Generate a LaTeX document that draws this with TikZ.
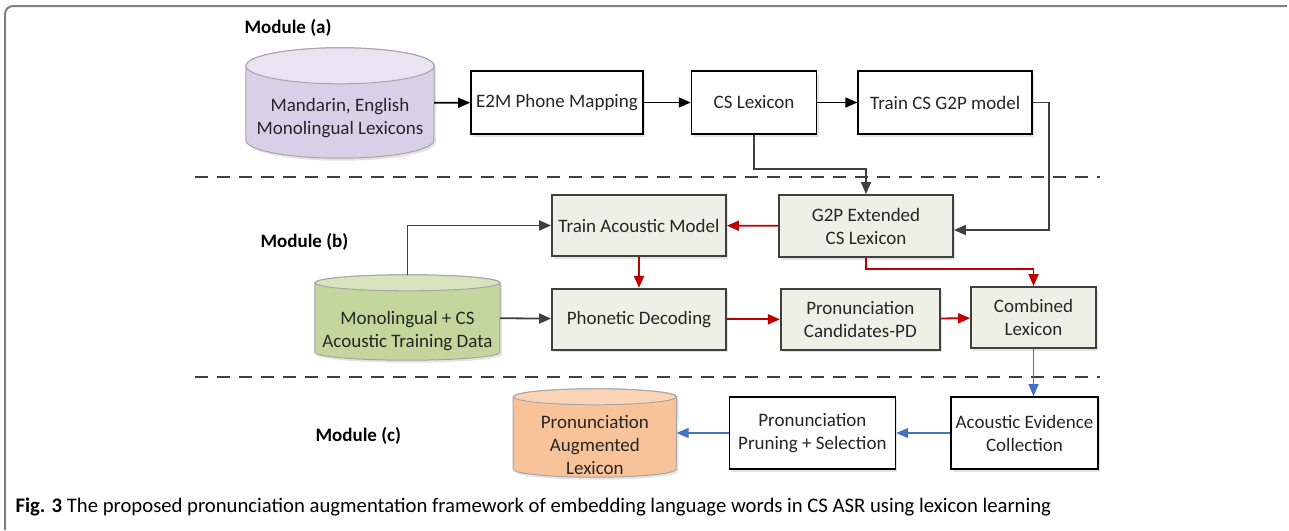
\documentclass[tikz,border=0pt]{standalone}
\usepackage{fontspec}
\setmainfont{Carlito}
\usetikzlibrary{arrows.meta,shadows,positioning}

\definecolor{textgray}{HTML}{262626}
\definecolor{linegray}{HTML}{404040}
\definecolor{dbline}{HTML}{A6A6A6}
\definecolor{boxfill}{HTML}{EEF0E6}
\definecolor{arrred}{HTML}{C00000}
\definecolor{arrblue}{HTML}{4472C4}
\definecolor{lexpurple}{HTML}{D8D0E7}
\definecolor{lexpurpletop}{HTML}{E8E4F1}
\definecolor{datagreen}{HTML}{C3D69B}
\definecolor{datagreentop}{HTML}{D7E4BD}
\definecolor{augorange}{HTML}{F9C39A}
\definecolor{augorangetop}{HTML}{FBD4B5}

\begin{document}
\begin{tikzpicture}[x=1pt,y=-1pt,>={Triangle[length=12pt,width=10pt]},
  font=\fontsize{19}{23}\selectfont,text=textgray,
  softshadow/.style={drop shadow={shadow xshift=2pt,shadow yshift=-2.5pt,opacity=.22}},
  plainbox/.style={draw=black,line width=1.6pt,fill=white,align=center,softshadow},
  stagebox/.style={draw=linegray,line width=1.8pt,fill=boxfill,align=center,softshadow},
  dbarea/.style={inner sep=0pt},
  dbtext/.style={align=center},
  dbbody/.style={draw=dbline,line width=1pt},
  modlabel/.style={font=\fontsize{19}{23}\selectfont\bfseries,text=black,anchor=west},
  blackflow/.style={->,black,line width=1.6pt},
  grayflow/.style={->,linegray,line width=1.8pt},
  redflow/.style={->,arrred,line width=1.8pt},
  blueflow/.style={->,arrblue,line width=1.6pt},
  sep/.style={linegray,line width=2.2pt,dash pattern=on 13pt off 9pt}]
  \useasboundingbox (0,0) rectangle (1289,530);

  % frame and module borders
  \draw[gray,line width=2pt,rounded corners=8pt] (5,530) -- (5,6) -- (1287,6);
  \draw[sep] (195,177) -- (1100,177);
  \draw[sep] (195,377) -- (1100,377);

  \node[modlabel] (moda) at (241,28) {Module (a)};
  \node[modlabel] (modb) at (257,242) {Module (b)};
  \node[modlabel] (modc) at (312,436) {Module (c)};

  % module (a)
  \node[dbarea,minimum width=188pt,minimum height=110pt] (monolex) at (340,103) {};
  \path[dbbody,fill=lexpurple,softshadow] ([yshift=-18pt]monolex.north west) -- ([yshift=18pt]monolex.south west)
    arc[start angle=180,end angle=360,x radius=94pt,y radius=18pt]
    -- ([yshift=-18pt]monolex.north east)
    arc[start angle=0,end angle=180,x radius=94pt,y radius=18pt] -- cycle;
  \draw[dbbody,fill=lexpurpletop] ([yshift=-18pt]monolex.north) ellipse[x radius=94pt,y radius=18pt];
  \node[dbtext] (monolextext) at ([yshift=-15.5pt]monolex.center) {Mandarin, English\\Monolingual Lexicons};

  \node[plainbox,minimum width=172pt,minimum height=63pt] (e2m) at (557,102.5) {E2M Phone Mapping};
  \node[plainbox,minimum width=125pt,minimum height=63pt,right=47pt of e2m] (cslex) {CS Lexicon};
  \node[plainbox,minimum width=174pt,minimum height=63pt,right=40pt of cslex] (g2pmodel) {Train CS G2P model};

  % module (b)
  \node[stagebox,minimum width=174pt,minimum height=62pt] (g2plex) at (866,226) {G2P Extended\\CS Lexicon};
  \node[stagebox,minimum width=174pt,minimum height=61pt] (trainam) at (639,225.5) {Train Acoustic Model};
  \node[stagebox,minimum width=174pt,minimum height=61pt,below=31pt of trainam] (phdec) {Phonetic Decoding};
  \node[stagebox,minimum width=159pt,minimum height=61pt,right=53pt of phdec] (pdcand) {Pronunciation\\Candidates-PD};
  \node[stagebox,minimum width=125pt,minimum height=61pt] (comblex) at (1033.5,317.5) {Combined\\Lexicon};

  \node[dbarea,minimum width=185pt,minimum height=85pt] (trdata) at (407.5,317.5) {};
  \path[dbbody,fill=datagreen,softshadow] ([yshift=-8pt]trdata.north west) -- ([yshift=8pt]trdata.south west)
    arc[start angle=180,end angle=360,x radius=92.5pt,y radius=8pt]
    -- ([yshift=-8pt]trdata.north east)
    arc[start angle=0,end angle=180,x radius=92.5pt,y radius=8pt] -- cycle;
  \draw[dbbody,fill=datagreentop] ([yshift=-8pt]trdata.north) ellipse[x radius=92.5pt,y radius=8pt];
  \node[dbtext] (trdatatext) at ([yshift=-14pt]trdata.center) {Monolingual + CS\\Acoustic Training Data};

  % module (c)
  \node[plainbox,minimum width=147pt,minimum height=72pt] (evid) at (1024.5,433) {Acoustic Evidence\\Collection};
  \node[plainbox,minimum width=166pt,minimum height=72pt,left=54pt of evid] (prune) {Pronunciation\\Pruning + Selection};

  \node[dbarea,minimum width=163pt,minimum height=88pt,left=52pt of prune] (auglex) {};
  \path[dbbody,fill=augorange,softshadow] ([yshift=-8pt]auglex.north west) -- ([yshift=8pt]auglex.south west)
    arc[start angle=180,end angle=360,x radius=81.5pt,y radius=8pt]
    -- ([yshift=-8pt]auglex.north east)
    arc[start angle=0,end angle=180,x radius=81.5pt,y radius=8pt] -- cycle;
  \draw[dbbody,fill=augorangetop] ([yshift=-8pt]auglex.north) ellipse[x radius=81.5pt,y radius=8pt];
  \node[dbtext] (auglextext) at ([yshift=-11.5pt]auglex.center) {Pronunciation\\Augmented\\Lexicon};

  \draw[blackflow] (monolex) -- (e2m);
  \draw[blackflow] (e2m) -- (cslex);
  \draw[blackflow] (cslex) -- (g2pmodel);
  \draw[grayflow] (cslex.south) -- ++(0,34) -| (g2plex.north);
  \draw[grayflow] (g2pmodel.east) -- ++(16,0) |- ([yshift=-4pt]g2plex.east);

  \draw[redflow] (g2plex) -- (trainam);
  \draw[grayflow] (trdata.north) |- (trainam.west);
  \draw[grayflow] (trdata) -- (phdec);
  \draw[redflow] (trainam) -- (phdec);
  \draw[redflow] (phdec) -- (pdcand);
  \draw[redflow] (pdcand) -- (comblex);
  \draw[redflow] (g2plex.south) -- ++(0,11) -| (comblex.north);

  \draw[blueflow] (comblex.south) -- (comblex.south |- evid.north);
  \draw[blueflow] (evid) -- (prune);
  \draw[blueflow] (prune) -- (auglex);

  \node[anchor=west,font=\fontsize{20.7}{24}\selectfont,text=black] (caption) at (12,507)
    {\textbf{Fig. 3} The proposed pronunciation augmentation framework of embedding language words in CS ASR using lexicon learning};
\end{tikzpicture}
\end{document}
